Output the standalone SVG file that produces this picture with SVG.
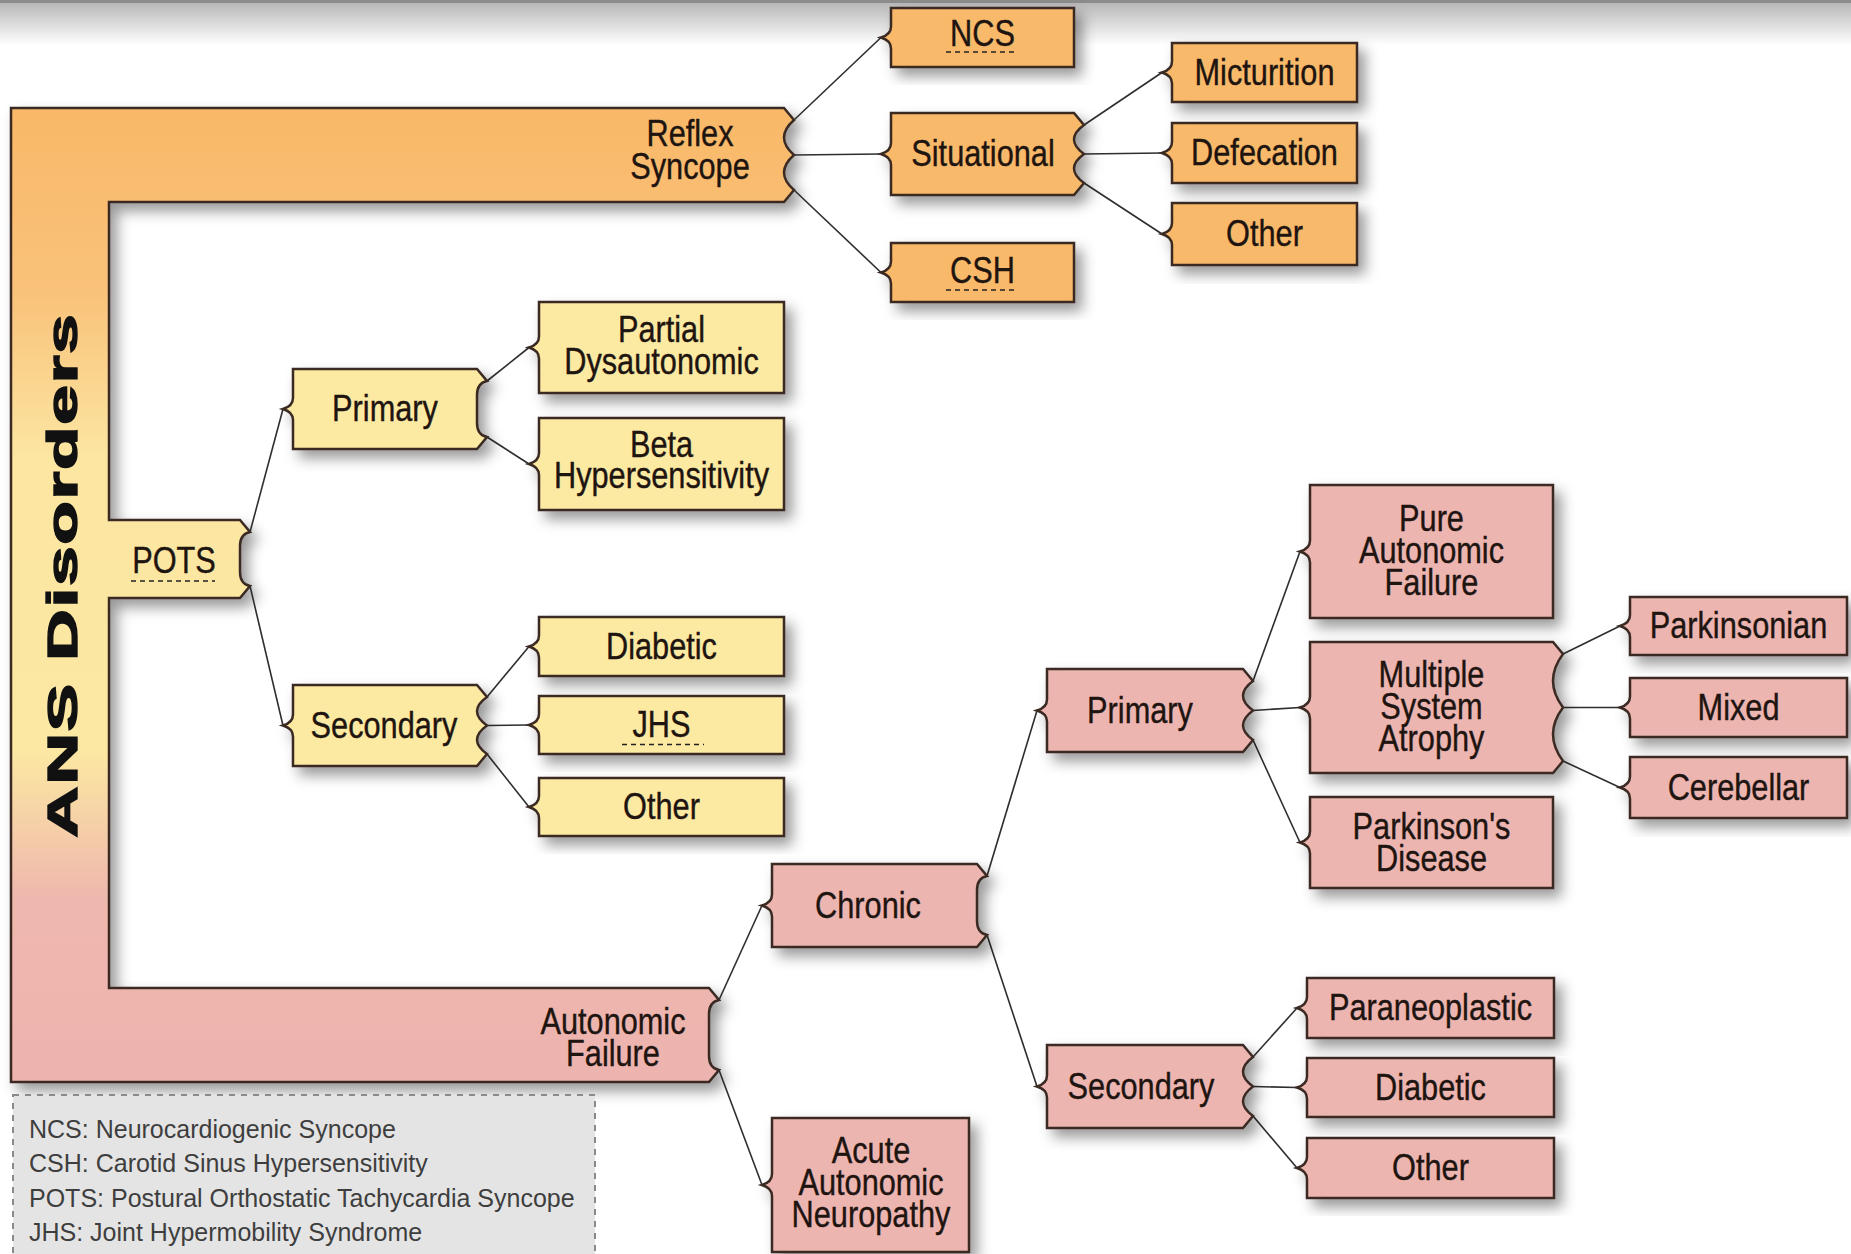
<svg xmlns="http://www.w3.org/2000/svg" width="1851" height="1254" viewBox="0 0 1851 1254">
<defs>
<linearGradient id="topShade" x1="0" y1="0" x2="0" y2="1">
<stop offset="0" stop-color="#b8b8b8"/>
<stop offset="1" stop-color="#ffffff"/>
</linearGradient>
<linearGradient id="bandGrad" gradientUnits="userSpaceOnUse" x1="0" y1="108" x2="0" y2="1082">
<stop offset="0" stop-color="#F9B868"/>
<stop offset="0.19" stop-color="#F9C27A"/>
<stop offset="0.36" stop-color="#FCE6A2"/>
<stop offset="0.66" stop-color="#FCE8A2"/>
<stop offset="0.81" stop-color="#EFB8AE"/>
<stop offset="1" stop-color="#EDB3AF"/>
</linearGradient>
<filter id="shadow" x="-20%" y="-20%" width="140%" height="150%">
<feDropShadow dx="7" dy="8" stdDeviation="7" flood-color="#000" flood-opacity="0.4"/>
</filter>
<style>
.box{stroke:#3b2a24;stroke-width:2.5;stroke-linejoin:miter;filter:url(#shadow)}
.o{fill:#F9B96A}
.y{fill:#FCE9A2}
.p{fill:#EDB5B0}
.t{font-family:"Liberation Sans",Arial,sans-serif;font-size:37px;fill:#1e1410;stroke:#1e1410;stroke-width:0.4;text-anchor:middle}
.ans{font-family:"Liberation Sans",Arial,sans-serif;font-weight:bold;font-size:42px;fill:#111;stroke:#111;stroke-width:1.4;text-anchor:middle}
.lg{font-family:"Liberation Sans",Arial,sans-serif;font-size:25px;fill:#3e3e3e}
.ul{stroke:#222;stroke-width:1.5;stroke-dasharray:5 4;fill:none}
.c{stroke:#2e2e2e;stroke-width:1.6;fill:none}
</style>
</defs>
<rect x="0" y="0" width="1851" height="1254" fill="#ffffff"/>
<rect x="0" y="3" width="1851" height="42" fill="url(#topShade)"/>
<rect x="0" y="0" width="1851" height="3" fill="#8c8c8c"/>

<g id="ans-disorders">
<path class="box" fill="url(#bandGrad)" d="M11,108 H784 L794,120 Q774,137.5 794,155 Q774,172.5 794,190 L784,202 H109 V520 H240 L250,532 Q240,534 240,546 L240,572 Q240,584 250,586 L240,598 H109 V988 H709 L719,1000 Q709,1002 709,1014 L709,1056 Q709,1068 719,1070 L709,1082 H11 Z"/>
<text class="ans" transform="translate(77,576) rotate(-90) scale(1.7,1)" textLength="308" lengthAdjust="spacing">ANS Disorders</text>
</g>
<g id="reflex-syncope">
<text class="t" transform="translate(690,0) scale(.83,1)"><tspan x="0" y="146">Reflex</tspan><tspan x="0" y="179">Syncope</tspan></text>
</g>
<g id="pots">
<text class="t" transform="translate(174,573) scale(.83,1)">POTS</text>
<line class="ul" x1="131" y1="581" x2="215" y2="581"/>
</g>
<g id="autonomic-failure">
<text class="t" transform="translate(613,0) scale(.83,1)"><tspan x="0" y="1034">Autonomic</tspan><tspan x="0" y="1066">Failure</tspan></text>
</g>

<g id="connectors">
<line class="c" x1="794" y1="120" x2="881" y2="37.5"/>
<line class="c" x1="794" y1="155" x2="881" y2="154"/>
<line class="c" x1="794" y1="190" x2="881" y2="272.5"/>
<line class="c" x1="1084" y1="125" x2="1162" y2="72.5"/>
<line class="c" x1="1084" y1="154" x2="1162" y2="153"/>
<line class="c" x1="1084" y1="183" x2="1162" y2="234"/>
<line class="c" x1="250" y1="532" x2="283" y2="409"/>
<line class="c" x1="250" y1="586" x2="283" y2="725.5"/>
<line class="c" x1="487" y1="381" x2="529" y2="347.5"/>
<line class="c" x1="487" y1="437" x2="529" y2="464"/>
<line class="c" x1="487" y1="697" x2="529" y2="646.5"/>
<line class="c" x1="487" y1="725.5" x2="529" y2="725"/>
<line class="c" x1="487" y1="754" x2="529" y2="807"/>
<line class="c" x1="719" y1="1000" x2="762" y2="905.5"/>
<line class="c" x1="719" y1="1070" x2="762" y2="1185"/>
<line class="c" x1="987" y1="876" x2="1037" y2="710.5"/>
<line class="c" x1="987" y1="935" x2="1037" y2="1086.5"/>
<line class="c" x1="1253" y1="681" x2="1300" y2="551.5"/>
<line class="c" x1="1253" y1="710.5" x2="1300" y2="707.5"/>
<line class="c" x1="1253" y1="740" x2="1300" y2="842.5"/>
<line class="c" x1="1563" y1="654" x2="1620" y2="626"/>
<line class="c" x1="1563" y1="707.5" x2="1620" y2="707.5"/>
<line class="c" x1="1563" y1="761" x2="1620" y2="787.5"/>
<line class="c" x1="1253" y1="1057" x2="1297" y2="1008"/>
<line class="c" x1="1253" y1="1086.5" x2="1297" y2="1087.5"/>
<line class="c" x1="1253" y1="1116" x2="1297" y2="1168"/>
</g>

<g id="ncs">
<path class="box o" d="M891,8 H1074 V67 H891 L891,48.5 Q891,40.5 881,37.5 Q891,34.5 891,26.5 Z"/>
<text class="t" transform="translate(982.5,46) scale(.83,1)">NCS</text>
<line class="ul" x1="946" y1="52" x2="1018" y2="52"/>
</g>
<g id="situational">
<path class="box o" d="M891,113 H1074 L1084,125 Q1064,139.5 1084,154 Q1064,168.5 1084,183 L1074,195 H891 L891,165 Q891,157 881,154 Q891,151 891,143 Z"/>
<text class="t" transform="translate(983,166) scale(.83,1)">Situational</text>
</g>
<g id="csh">
<path class="box o" d="M891,243 H1074 V302 H891 L891,283.5 Q891,275.5 881,272.5 Q891,269.5 891,261.5 Z"/>
<text class="t" transform="translate(982.5,283) scale(.83,1)">CSH</text>
<line class="ul" x1="946" y1="290" x2="1018" y2="290"/>
</g>
<g id="micturition">
<path class="box o" d="M1172,43 H1357 V102 H1172 L1172,83.5 Q1172,75.5 1162,72.5 Q1172,69.5 1172,61.5 Z"/>
<text class="t" transform="translate(1264.5,84.5) scale(.83,1)">Micturition</text>
</g>
<g id="defecation">
<path class="box o" d="M1172,123 H1357 V183 H1172 L1172,164 Q1172,156 1162,153 Q1172,150 1172,142 Z"/>
<text class="t" transform="translate(1264.5,165) scale(.83,1)">Defecation</text>
</g>
<g id="situational-other">
<path class="box o" d="M1172,203 H1357 V265 H1172 L1172,245 Q1172,237 1162,234 Q1172,231 1172,223 Z"/>
<text class="t" transform="translate(1264.5,246) scale(.83,1)">Other</text>
</g>

<g id="pots-primary">
<path class="box y" d="M293,369 H477 L487,381 Q477,383 477,395 L477,423 Q477,435 487,437 L477,449 H293 L293,420 Q293,412 283,409 Q293,406 293,398 Z"/>
<text class="t" transform="translate(385,421) scale(.83,1)">Primary</text>
</g>
<g id="pots-secondary">
<path class="box y" d="M293,685 H477 L487,697 Q467,711.25 487,725.5 Q467,739.75 487,754 L477,766 H293 L293,736.5 Q293,728.5 283,725.5 Q293,722.5 293,714.5 Z"/>
<text class="t" transform="translate(384,737.5) scale(.83,1)">Secondary</text>
</g>
<g id="partial-dysautonomic">
<path class="box y" d="M539,302 H784 V393 H539 L539,358.5 Q539,350.5 529,347.5 Q539,344.5 539,336.5 Z"/>
<text class="t" transform="translate(661.5,0) scale(.83,1)"><tspan x="0" y="342">Partial</tspan><tspan x="0" y="374">Dysautonomic</tspan></text>
</g>
<g id="beta-hypersensitivity">
<path class="box y" d="M539,418 H784 V510 H539 L539,475 Q539,467 529,464 Q539,461 539,453 Z"/>
<text class="t" transform="translate(661.5,0) scale(.83,1)"><tspan x="0" y="457">Beta</tspan><tspan x="0" y="488.5">Hypersensitivity</tspan></text>
</g>
<g id="pots-diabetic">
<path class="box y" d="M539,617 H784 V676 H539 L539,657.5 Q539,649.5 529,646.5 Q539,643.5 539,635.5 Z"/>
<text class="t" transform="translate(661.5,658.5) scale(.83,1)">Diabetic</text>
</g>
<g id="jhs">
<path class="box y" d="M539,696 H784 V754 H539 L539,736 Q539,728 529,725 Q539,722 539,714 Z"/>
<text class="t" transform="translate(661.5,737) scale(.83,1)">JHS</text>
<line class="ul" x1="622" y1="744.5" x2="704" y2="744.5"/>
</g>
<g id="pots-other">
<path class="box y" d="M539,778 H784 V836 H539 L539,818 Q539,810 529,807 Q539,804 539,796 Z"/>
<text class="t" transform="translate(661.5,819) scale(.83,1)">Other</text>
</g>

<g id="chronic">
<path class="box p" d="M772,864 H977 L987,876 Q977,878 977,890 L977,921 Q977,933 987,935 L977,947 H772 L772,916.5 Q772,908.5 762,905.5 Q772,902.5 772,894.5 Z"/>
<text class="t" transform="translate(868,917.5) scale(.83,1)">Chronic</text>
</g>
<g id="acute-autonomic-neuropathy">
<path class="box p" d="M772,1118 H969 V1252 H772 L772,1196 Q772,1188 762,1185 Q772,1182 772,1174 Z"/>
<text class="t" transform="translate(871,0) scale(.83,1)"><tspan x="0" y="1163">Acute</tspan><tspan x="0" y="1195">Autonomic</tspan><tspan x="0" y="1227">Neuropathy</tspan></text>
</g>
<g id="af-primary">
<path class="box p" d="M1047,669 H1243 L1253,681 Q1233,695.75 1253,710.5 Q1233,725.25 1253,740 L1243,752 H1047 L1047,721.5 Q1047,713.5 1037,710.5 Q1047,707.5 1047,699.5 Z"/>
<text class="t" transform="translate(1140,722.5) scale(.83,1)">Primary</text>
</g>
<g id="af-secondary">
<path class="box p" d="M1047,1045 H1243 L1253,1057 Q1233,1071.75 1253,1086.5 Q1233,1101.25 1253,1116 L1243,1128 H1047 L1047,1097.5 Q1047,1089.5 1037,1086.5 Q1047,1083.5 1047,1075.5 Z"/>
<text class="t" transform="translate(1141,1098.5) scale(.83,1)">Secondary</text>
</g>
<g id="pure-autonomic-failure">
<path class="box p" d="M1310,485 H1553 V618 H1310 L1310,562.5 Q1310,554.5 1300,551.5 Q1310,548.5 1310,540.5 Z"/>
<text class="t" transform="translate(1431.5,0) scale(.83,1)"><tspan x="0" y="531">Pure</tspan><tspan x="0" y="563">Autonomic</tspan><tspan x="0" y="595">Failure</tspan></text>
</g>
<g id="multiple-system-atrophy">
<path class="box p" d="M1310,642 H1553 L1563,654 Q1543,680.75 1563,707.5 Q1543,734.25 1563,761 L1553,773 H1310 L1310,718.5 Q1310,710.5 1300,707.5 Q1310,704.5 1310,696.5 Z"/>
<text class="t" transform="translate(1431.5,0) scale(.83,1)"><tspan x="0" y="687">Multiple</tspan><tspan x="0" y="719">System</tspan><tspan x="0" y="751">Atrophy</tspan></text>
</g>
<g id="parkinsons-disease">
<path class="box p" d="M1310,797 H1553 V888 H1310 L1310,853.5 Q1310,845.5 1300,842.5 Q1310,839.5 1310,831.5 Z"/>
<text class="t" transform="translate(1431.5,0) scale(.83,1)"><tspan x="0" y="839">Parkinson's</tspan><tspan x="0" y="871">Disease</tspan></text>
</g>
<g id="parkinsonian">
<path class="box p" d="M1630,597 H1847 V655 H1630 L1630,637 Q1630,629 1620,626 Q1630,623 1630,615 Z"/>
<text class="t" transform="translate(1738.5,638) scale(.83,1)">Parkinsonian</text>
</g>
<g id="mixed">
<path class="box p" d="M1630,678 H1847 V737 H1630 L1630,718.5 Q1630,710.5 1620,707.5 Q1630,704.5 1630,696.5 Z"/>
<text class="t" transform="translate(1738.5,719.5) scale(.83,1)">Mixed</text>
</g>
<g id="cerebellar">
<path class="box p" d="M1630,757 H1847 V818 H1630 L1630,798.5 Q1630,790.5 1620,787.5 Q1630,784.5 1630,776.5 Z"/>
<text class="t" transform="translate(1738.5,799.5) scale(.83,1)">Cerebellar</text>
</g>
<g id="paraneoplastic">
<path class="box p" d="M1307,978 H1554 V1038 H1307 L1307,1019 Q1307,1011 1297,1008 Q1307,1005 1307,997 Z"/>
<text class="t" transform="translate(1430.5,1020) scale(.83,1)">Paraneoplastic</text>
</g>
<g id="af-diabetic">
<path class="box p" d="M1307,1058 H1554 V1117 H1307 L1307,1098.5 Q1307,1090.5 1297,1087.5 Q1307,1084.5 1307,1076.5 Z"/>
<text class="t" transform="translate(1430.5,1099.5) scale(.83,1)">Diabetic</text>
</g>
<g id="af-other">
<path class="box p" d="M1307,1138 H1554 V1198 H1307 L1307,1179 Q1307,1171 1297,1168 Q1307,1165 1307,1157 Z"/>
<text class="t" transform="translate(1430.5,1180) scale(.83,1)">Other</text>
</g>

<g id="legend">
<rect x="13" y="1095" width="582" height="175" fill="#e4e4e4" stroke="#8a8a8a" stroke-width="2" stroke-dasharray="6 6"/>
<text class="lg" x="29" y="1138">NCS: Neurocardiogenic Syncope</text>
<text class="lg" x="29" y="1172">CSH: Carotid Sinus Hypersensitivity</text>
<text class="lg" x="29" y="1206.5">POTS: Postural Orthostatic Tachycardia Syncope</text>
<text class="lg" x="29" y="1241">JHS: Joint Hypermobility Syndrome</text>
</g>
</svg>
